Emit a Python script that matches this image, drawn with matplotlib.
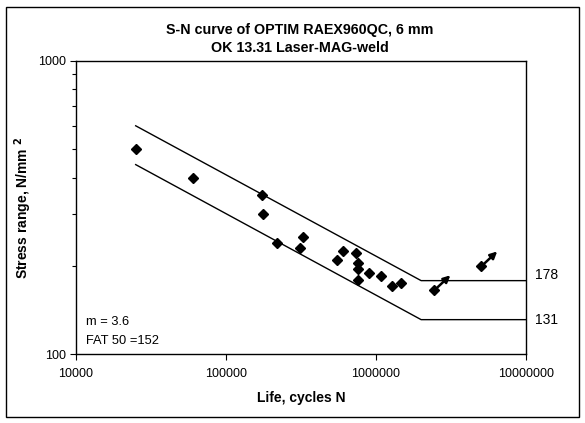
import numpy as np
import matplotlib
matplotlib.use("Agg")
import matplotlib.pyplot as plt
from matplotlib.patches import Rectangle
from matplotlib.ticker import FixedLocator, NullFormatter

plt.rcParams['font.family'] = ['Liberation Sans', 'DejaVu Sans']

# test results (cycles, stress range)
life = [25000, 60000, 175000, 177000, 218000, 328000, 311000, 605000, 736000,
        547000, 755000, 755000, 902000, 1074000, 755000, 1461000, 1278000]
stress = [500, 400, 350, 300, 240, 250, 230, 224, 221,
          209, 205, 195, 189, 184.5, 179, 175, 170]

# run-outs (marked with arrows)
runout_life = [2450000, 5030000]
runout_stress = [165, 199]

# S-N design lines, m = 3.6
curve_life = [25000, 2000000, 10000000]
curve_mean = [601, 178, 178]
curve_fat = [443, 131, 131]
level_labels = ["178", "131"]

fig = plt.figure(figsize=(5.85, 4.23), dpi=100)
ax = fig.add_axes([0.1299, 0.1631, 0.7692, 0.6927])

ax.plot(curve_life, curve_mean, color='black', lw=1.0)
ax.plot(curve_life, curve_fat, color='black', lw=1.0)
ax.plot(life, stress, 'D', color='black', ms=4.7, mec='black')
ax.plot(runout_life, runout_stress, 'D', color='black', ms=4.7, mec='black')

for n, s in zip(runout_life, runout_stress):
    ax.annotate('', xy=(n, s), xytext=(16, 15), textcoords='offset pixels',
                arrowprops=dict(arrowstyle='<|-', color='black', lw=1.8,
                                shrinkA=0, shrinkB=3,
                                mutation_scale=10))

ax.set_xscale('log')
ax.set_yscale('log')
ax.set_xlim(1e4, 1e7)
ax.set_ylim(100, 1000)

ax.xaxis.set_major_locator(FixedLocator([1e4, 1e5, 1e6, 1e7]))
ax.set_xticklabels(['10000', '100000', '1000000', '10000000'])
ax.xaxis.set_minor_locator(FixedLocator([]))
ax.yaxis.set_major_locator(FixedLocator([100, 1000]))
ax.set_yticklabels(['100', '1000'])
ax.yaxis.set_minor_locator(FixedLocator([200, 300, 400, 500, 600, 700, 800, 900]))
ax.yaxis.set_minor_formatter(NullFormatter())
ax.tick_params(axis='both', which='major', direction='out', length=4,
               width=0.8, labelsize=9, pad=3)
ax.tick_params(axis='y', which='minor', direction='out', length=3, width=0.8)
ax.tick_params(axis='x', pad=6)
for sp in ax.spines.values():
    sp.set_linewidth(1.0)

ax.set_xlabel('Life, cycles N', fontsize=10, fontweight='bold', labelpad=8)
ax.set_ylabel('Stress range, N/mm $^{\\mathbf{2}}$', fontsize=10,
              fontweight='bold', labelpad=3)

ax.annotate(level_labels[0], xy=(1.0, curve_mean[-1]),
            xycoords=ax.get_yaxis_transform(), xytext=(9, 6),
            textcoords='offset pixels', fontsize=10, va='center', ha='left')
ax.annotate(level_labels[1], xy=(1.0, curve_fat[-1]),
            xycoords=ax.get_yaxis_transform(), xytext=(9, 0),
            textcoords='offset pixels', fontsize=10, va='center', ha='left')

ax.text(0.022, 0.11, 'm = 3.6', transform=ax.transAxes, fontsize=9.3,
        va='center')
ax.text(0.022, 0.046, 'FAT 50 =152', transform=ax.transAxes, fontsize=9.3,
        va='center')

fig.text(0.513, 0.930, 'S-N curve of OPTIM RAEX960QC, 6 mm',
         ha='center', va='center', fontsize=10.3, fontweight='bold')
fig.text(0.513, 0.887, 'OK 13.31 Laser-MAG-weld',
         ha='center', va='center', fontsize=10.3, fontweight='bold')

# frame around the whole chart
fig.patches.append(Rectangle((6 / 585, 6 / 423), 573 / 585, 410 / 423,
                             transform=fig.transFigure, fill=False,
                             edgecolor='black', lw=1.0))

fig.savefig('out.png', dpi=100)
